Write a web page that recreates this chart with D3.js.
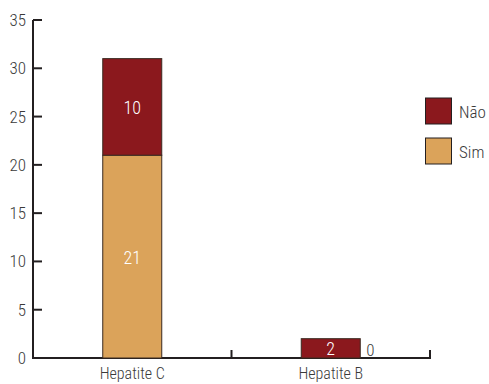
<!DOCTYPE html>
<html>
<head>
<meta charset="utf-8">
<script src="https://cdn.jsdelivr.net/npm/d3@7"></script>
<style>
  body { margin: 0; background: #fff; }
  svg text { font-family: "Liberation Sans Narrow", "Roboto Condensed", "Arial Narrow", sans-serif; font-weight: 300; }
</style>
</head>
<body>
<svg width="489" height="384"></svg>
<script>
const categories = ["Hepatite C", "Hepatite B"];
const sim = [21, 0];
const nao = [10, 2];
const seriesNames = ["Não", "Sim"];
const yTicks = [0, 5, 10, 15, 20, 25, 30, 35];

const colors = { "Sim": "#dba35a", "Não": "#8b181d" };

const svg = d3.select("svg");
const mLeft = 33, mRight = 430, mTop = 20, mBottom = 358;

const x = d3.scaleBand().domain(categories).range([mLeft, mRight]).paddingInner(0).paddingOuter(0);
const y = d3.scaleLinear().domain([0, 35]).range([mBottom, mTop]);
const barW = 59;

// axes
svg.append("line").attr("x1", mLeft).attr("x2", mLeft).attr("y1", mTop).attr("y2", mBottom + 1)
  .attr("stroke", "#231f20").attr("stroke-width", 2);
svg.append("line").attr("x1", mLeft - 1).attr("x2", mRight + 1).attr("y1", mBottom).attr("y2", mBottom)
  .attr("stroke", "#231f20").attr("stroke-width", 2);

svg.selectAll(".ytick").data(yTicks).enter().append("line")
  .attr("x1", mLeft).attr("x2", mLeft + 9)
  .attr("y1", d => y(d)).attr("y2", d => y(d))
  .attr("stroke", "#231f20").attr("stroke-width", 2);

svg.selectAll(".ylab").data(yTicks).enter().append("text")
  .attr("x", mLeft - 7).attr("y", d => y(d) + 6)
  .attr("text-anchor", "end").attr("font-size", 17).attr("fill", "#3a3a3a")
  .text(d => d);

// x ticks at band boundaries
svg.selectAll(".xtick").data(categories).enter().append("line")
  .attr("x1", d => x(d) + x.bandwidth()).attr("x2", d => x(d) + x.bandwidth())
  .attr("y1", mBottom).attr("y2", mBottom - 8)
  .attr("stroke", "#231f20").attr("stroke-width", 2);

svg.selectAll(".xlab").data(categories).enter().append("text")
  .attr("x", d => x(d) + x.bandwidth() / 2).attr("y", mBottom + 21)
  .attr("text-anchor", "middle").attr("font-size", 16).attr("fill", "#3a3a3a")
  .text(d => d);

// stacked bars
const rows = categories.map((c, i) => ({ cat: c, "Sim": sim[i], "Não": nao[i] }));
const stack = d3.stack().keys(["Sim", "Não"])(rows);

stack.forEach(layer => {
  const key = layer.key;
  const g = svg.append("g");
  layer.forEach(d => {
    const cx = x(d.data.cat) + x.bandwidth() / 2;
    g.append("rect")
      .attr("x", cx - barW / 2).attr("width", barW)
      .attr("y", y(d[1])).attr("height", y(d[0]) - y(d[1]))
      .attr("fill", colors[key])
      .attr("stroke", "#3a2a20").attr("stroke-width", 1);
    const v = d.data[key];
    if (v > 0) {
      g.append("text")
        .attr("x", cx).attr("y", (y(d[0]) + y(d[1])) / 2 + 7)
        .attr("text-anchor", "middle").attr("font-size", 18).attr("fill", "#fff")
        .text(v);
    } else {
      g.append("text")
        .attr("x", cx + barW / 2 + 6).attr("y", y(d[1]) - 2)
        .attr("text-anchor", "start").attr("font-size", 17).attr("fill", "#3a3a3a")
        .text(v);
    }
  });
});

// legend
const leg = svg.append("g");
seriesNames.forEach((name, i) => {
  const ly = 98 + i * 40;
  leg.append("rect").attr("x", 425.5).attr("y", ly).attr("width", 26).attr("height", 26)
    .attr("fill", colors[name]).attr("stroke", "#231f20").attr("stroke-width", 1);
  leg.append("text").attr("x", 459).attr("y", ly + 20)
    .attr("font-size", 17).attr("fill", "#3a3a3a").text(name);
});
</script>
</body>
</html>
